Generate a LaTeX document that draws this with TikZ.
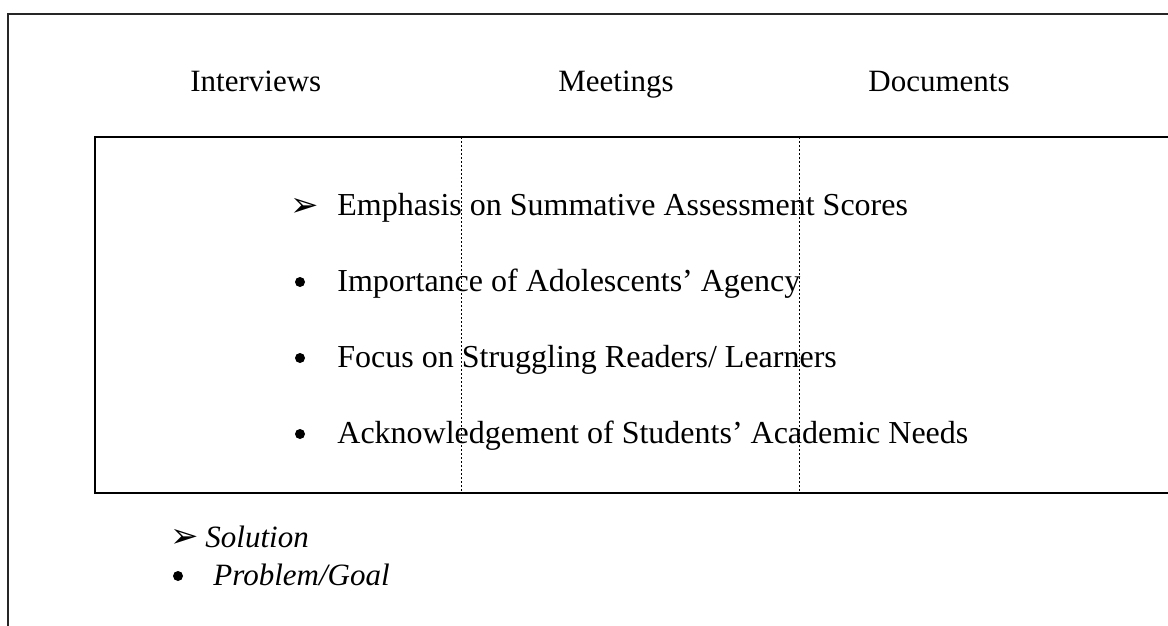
\documentclass[tikz,border=0pt]{standalone}
\usepackage{fontspec}
\setmainfont{Liberation Serif}
\newfontfamily\dingfont{DejaVu Sans}
\usetikzlibrary{positioning}

\begin{document}
\begin{tikzpicture}[x=0.5pt,y=-0.5pt,font=\fontsize{15.5}{18}\selectfont,
 frame/.style={draw=black!85,line width=0.65pt},
 panel/.style={draw=black,line width=0.85pt},
 divider/.style={draw=black,line width=0.45pt,dash pattern=on 1pt off 1pt},
 label/.style={anchor=base west,inner sep=0pt},
 theme/.style={label,font=\fontsize{16}{19}\selectfont},
 marker/.style={label,font=\dingfont\fontsize{17}{19}\selectfont},
 dot/.style={circle,fill=black,inner sep=0pt,minimum size=5pt},
 key/.style={label,font=\fontsize{15.5}{18}\selectfont\itshape}]
\useasboundingbox (0,0) rectangle (1168,626);
\clip (0,0) rectangle (1168,626);
% outer frame and evidence panel, both run past the right edge
\draw[frame] (8,700) -- (8,14) -- (1250,14);
\draw[panel] (1250,137) -- (95,137) -- (95,493) -- (1250,493);
\coordinate (colA top) at (461,137);
\coordinate (colA bottom) at (461,493);
\coordinate (colB top) at (799,137);
\coordinate (colB bottom) at (799,493);
\draw[divider] (colA top) -- (colA bottom);
\draw[divider] (colB top) -- (colB bottom);
% data sources
\node[label] (interviews) at (190,92) {Interviews};
\node[label] (meetings) at (558,92) {Meetings};
\node[label] (documents) at (868,92) {Documents};
% themes
\node[marker] (mark1) at (290,216) {➢};
\node[theme] (emphasis) at (337,215) {Emphasis on Summative Assessment Scores};
\node[dot] (mark2) at (300,282) {};
\node[theme] (agency) at (337,291) {Importance of Adolescents’ Agency};
\node[dot] (mark3) at (300,358) {};
\node[theme] (readers) at (337,367) {Focus on Struggling Readers/ Learners};
\node[dot] (mark4) at (300,434) {};
\node[theme] (needs) at (337,443) {Acknowledgement of Students’ Academic Needs};
% key
\node[marker] (keymark1) at (170,547) {➢};
\node[key] (solution) at (205,547) {Solution};
\node[dot] (keymark2) at (178,576) {};
\node[key] (goal) at (213,585) {Problem/Goal};
\end{tikzpicture}
\end{document}
